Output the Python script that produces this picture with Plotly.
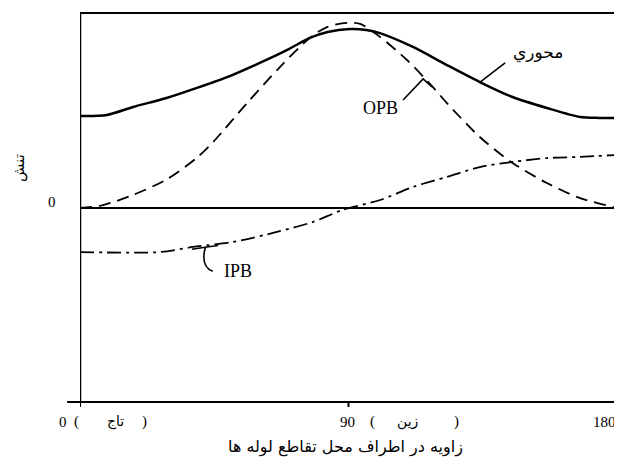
import plotly.graph_objects as go

# ---- data (angle in degrees, stress in relative units) ----
axial_angle = [0, 9, 17.8, 29, 39, 50, 61, 70, 77, 83, 90.5, 96, 100.5, 111.6, 123, 134, 145, 156.5, 167.6, 174, 180]
axial_stress = [0.472, 0.477, 0.518, 0.564, 0.615, 0.675, 0.749, 0.815, 0.872, 0.903, 0.918, 0.913, 0.897, 0.826, 0.733, 0.646, 0.569, 0.513, 0.467, 0.462, 0.462]

opb_angle = [0, 7.7, 17.8, 29.2, 39.2, 44.6, 56, 67, 77, 82.8, 89.5, 93.9, 100.6, 109.6, 118.3, 123, 134, 145, 156.5, 167.6, 178.7, 180]
opb_stress = [0, 0.015, 0.067, 0.148, 0.258, 0.338, 0.538, 0.723, 0.872, 0.928, 0.949, 0.944, 0.877, 0.759, 0.620, 0.538, 0.364, 0.231, 0.128, 0.051, 0.005, 0]

ipb_angle = [0, 26.8, 37.9, 51.3, 66, 78, 88, 100.6, 111.6, 123, 134, 145, 156.5, 167.6, 180]
ipb_stress = [-0.226, -0.226, -0.200, -0.174, -0.123, -0.072, -0.010, 0.041, 0.108, 0.159, 0.210, 0.236, 0.256, 0.262, 0.272]

tick_values = [0, 90, 180]
tick_numbers = ["0", "90", "180"]
tick_names = ["تاج", "زين", ""]

series_labels = ["محوري", "OPB", "IPB"]
x_title = "زاويه در اطراف محل تقاطع لوله ها"
y_title = "تنش"

SERIF = "Liberation Serif, DejaVu Serif, DejaVu Sans"
ARAB = "DejaVu Sans, Noto Sans, sans-serif"

fig = go.Figure()
fig.add_trace(go.Scatter(x=axial_angle, y=axial_stress, mode="lines", line=dict(color="black", width=2.5, shape="spline", smoothing=0.8), name=series_labels[0]))
fig.add_trace(go.Scatter(x=opb_angle, y=opb_stress, mode="lines", line=dict(color="black", width=1.8, dash="12px,7px", shape="spline", smoothing=0.8), name=series_labels[1]))
fig.add_trace(go.Scatter(x=ipb_angle, y=ipb_stress, mode="lines", line=dict(color="black", width=1.8, dash="14px,5px,3px,5px", shape="spline", smoothing=0.8), name=series_labels[2]))

shapes = []
blk = dict(color="black", width=2)
# frame
shapes.append(dict(type="line", xref="x", yref="paper", x0=0, x1=0, y0=0, y1=1, line=dict(color="black", width=2.5)))
shapes.append(dict(type="line", xref="x", yref="paper", x0=180, x1=180, y0=-0.012, y1=1, line=blk))
shapes.append(dict(type="line", xref="x", yref="paper", x0=0, x1=180, y0=1, y1=1, line=blk))
shapes.append(dict(type="line", xref="paper", yref="paper", x0=-0.024, x1=1, y0=0, y1=0, line=blk))
shapes.append(dict(type="line", xref="x", yref="y", x0=0, x1=180, y0=0, y1=0, line=blk))
# ticks
for tv in tick_values[:2]:
    shapes.append(dict(type="line", xref="x", yref="paper", x0=tv, x1=tv, y0=0, y1=-0.013, line=blk))
# leaders
thin = dict(color="black", width=1.6)
shapes.append(dict(type="line", xref="x", yref="y", x0=142.5, y0=0.744, x1=134.1, y1=0.646, line=thin))
shapes.append(dict(type="path", xref="x", yref="y", path="M 108.3 0.554 L 115.0 0.662 L 118.0 0.621", line=thin))
shapes.append(dict(type="path", xref="x", yref="y", path="M 37.5 -0.212 Q 42 -0.200 46.3 -0.192", line=thin))
shapes.append(dict(type="path", xref="x", yref="y", path="M 42.0 -0.203 Q 40.3 -0.300 44.5 -0.325", line=thin))

def note(x, y, text, family, size, xref="paper", yref="paper", **kw):
    return dict(x=x, y=y, xref=xref, yref=yref, text=text, showarrow=False,
                xanchor="center", yanchor="middle",
                font=dict(family=family, size=size, color="black"), **kw)

ann = []
ann.append(note(153.5, 0.795, series_labels[0], ARAB, 17, "x", "y"))
ann.append(note(100.6, 0.513, series_labels[1], SERIF, 18, "x", "y"))
ann.append(note(53.0, -0.323, series_labels[2], SERIF, 18, "x", "y"))
# y title and zero label
ann.append(note(-0.1136, 0.6015, y_title, ARAB, 15, textangle=-90))
ann.append(note(-0.052, 0.031, "0", SERIF, 15, "paper", "y"))
# x tick labels (paper positions of each part)
ty = -0.0514
num_pos = [-0.0317, 0.499, 0.976]
open_pos = [-0.0056, 0.5438, None]
name_pos = [0.0652, 0.609, None]
close_pos = [0.121, 0.702, None]
for num, nm, p0, p1, p2, p3 in zip(tick_numbers, tick_names, num_pos, open_pos, name_pos, close_pos):
    ann.append(note(p0, ty, num, SERIF, 15))
    if nm:
        ann.append(note(p1, ty, "(", SERIF, 15))
        ann.append(note(p2, ty, nm, ARAB, 14))
        ann.append(note(p3, ty, ")", SERIF, 15))
ann.append(note(0.4935, -0.1157, x_title, ARAB, 16))

# body margin of 8px is compensated in the figure size / margins
fig.update_layout(
    width=614, height=462,
    margin=dict(l=72, r=5, t=5, b=68),
    paper_bgcolor="white", plot_bgcolor="white",
    showlegend=False,
    xaxis=dict(range=[0, 180], showgrid=False, zeroline=False, showline=False, showticklabels=False, ticks=""),
    yaxis=dict(range=[-0.995, 1.0], showgrid=False, zeroline=False, showline=False, showticklabels=False, ticks=""),
    shapes=shapes, annotations=ann,
)
fig.write_html("out.html")
